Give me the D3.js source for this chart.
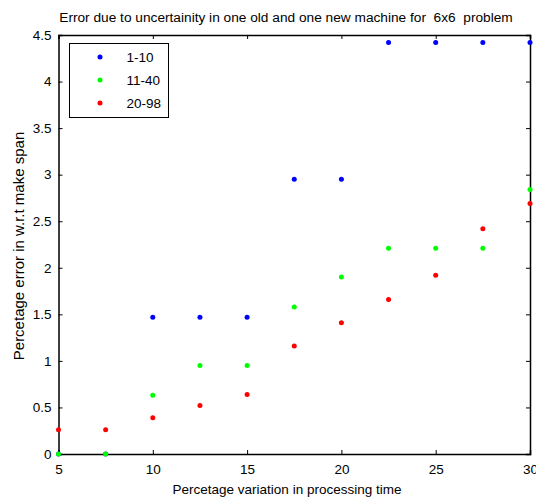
<!DOCTYPE html>
<html>
<head>
<meta charset="utf-8">
<script src="https://cdn.jsdelivr.net/npm/d3@7"></script>
<style>
  body { margin: 0; background: #fff; }
  svg { display: block; font-family: "Liberation Sans", Arial, sans-serif; }
</style>
</head>
<body>
<svg id="chart" width="536" height="499"></svg>
<script>
// data
var xValues = [5, 7.5, 10, 12.5, 15, 17.5, 20, 22.5, 25, 27.5, 30];
var series1to10 = [0, 0, 1.47, 1.47, 1.47, 2.95, 2.95, 4.42, 4.42, 4.42, 4.42];
var series11to40 = [0, 0, 0.63, 0.95, 0.95, 1.58, 1.90, 2.21, 2.21, 2.21, 2.84];
var series20to98 = [0.26, 0.26, 0.39, 0.52, 0.64, 1.16, 1.41, 1.66, 1.92, 2.42, 2.69];
var seriesNames = ['1-10', '11-40', '20-98'];
var seriesColors = ['#0000ff', '#00ff00', '#ff0000'];
var xTicks = [5, 10, 15, 20, 25, 30];
var yTicks = [0, 0.5, 1, 1.5, 2, 2.5, 3, 3.5, 4, 4.5];

var margin = {left: 58.5, right: 6, top: 35, bottom: 45};
var width = 536, height = 499;

var svg = d3.select('#chart');

var x = d3.scaleLinear().domain([5, 30]).range([margin.left, width - margin.right]);
var y = d3.scaleLinear().domain([0, 4.5]).range([height - margin.bottom, margin.top]);

var tickLen = 4;

//************************ Axes *************************/
var gx = svg.append('g')
  .attr('transform', 'translate(0,' + y(0) + ')')
  .call(d3.axisBottom(x).tickValues(xTicks).tickSize(-tickLen).tickPadding(10).tickFormat(d3.format('')));

var gxTop = svg.append('g')
  .attr('transform', 'translate(0,' + y(4.5) + ')')
  .call(d3.axisTop(x).tickValues(xTicks).tickSize(-tickLen).tickFormat(''));

var gy = svg.append('g')
  .attr('transform', 'translate(' + x(5) + ',0)')
  .call(d3.axisLeft(y).tickValues(yTicks).tickSize(-tickLen).tickPadding(7).tickFormat(d3.format('')));

var gyRight = svg.append('g')
  .attr('transform', 'translate(' + x(30) + ',0)')
  .call(d3.axisRight(y).tickValues(yTicks).tickSize(-tickLen).tickFormat(''));

[gx, gxTop, gy, gyRight].forEach(function(g) {
  g.select('.domain').attr('stroke', '#000').attr('stroke-width', 1.5);
  g.selectAll('.tick line').attr('stroke', '#000');
  g.selectAll('.tick text')
    .attr('fill', '#000')
    .style('font-size', '13.5px')
    .style('font-family', '"Liberation Sans", Arial, sans-serif');
});

//************************ Points *************************/
var allSeries = [series1to10, series11to40, series20to98];

allSeries.forEach(function(values, si) {
  svg.append('g')
    .selectAll('circle')
    .data(values)
    .enter()
    .append('circle')
    .attr('cx', function(d, i) { return x(xValues[i]); })
    .attr('cy', function(d) { return y(d); })
    .attr('r', 2.5)
    .attr('fill', seriesColors[si]);
});

//************************ Legend *************************/
var legend = svg.append('g').attr('transform', 'translate(69.5,43.5)');

legend.append('rect')
  .attr('width', 99)
  .attr('height', 74)
  .attr('fill', '#fff')
  .attr('stroke', '#000')
  .attr('stroke-width', 1);

var legendItems = legend.selectAll('g.item')
  .data(seriesNames)
  .enter()
  .append('g')
  .attr('class', 'item')
  .attr('transform', function(d, i) { return 'translate(0,' + (13.5 + i * 23) + ')'; });

legendItems.append('circle')
  .attr('cx', 30.5)
  .attr('r', 2.5)
  .attr('fill', function(d, i) { return seriesColors[i]; });

legendItems.append('text')
  .attr('x', 57)
  .attr('dy', '0.35em')
  .style('font-size', '13.5px')
  .text(function(d) { return d; });

//************************ Titles *************************/
svg.append('text')
  .attr('x', 286)
  .attr('y', 22)
  .attr('text-anchor', 'middle')
  .attr('xml:space', 'preserve')
  .style('font-size', '13.7px')
  .text('Error due to uncertainity in one old and one new machine for  6x6  problem');

svg.append('text')
  .attr('x', 287)
  .attr('y', 494)
  .attr('text-anchor', 'middle')
  .style('font-size', '13.5px')
  .text('Percetage variation in processing time');

svg.append('text')
  .attr('transform', 'translate(24,' + 246 + ') rotate(-90)')
  .attr('text-anchor', 'middle')
  .style('font-size', '15px')
  .text('Percetage error in w.r.t make span');
</script>
</body>
</html>
